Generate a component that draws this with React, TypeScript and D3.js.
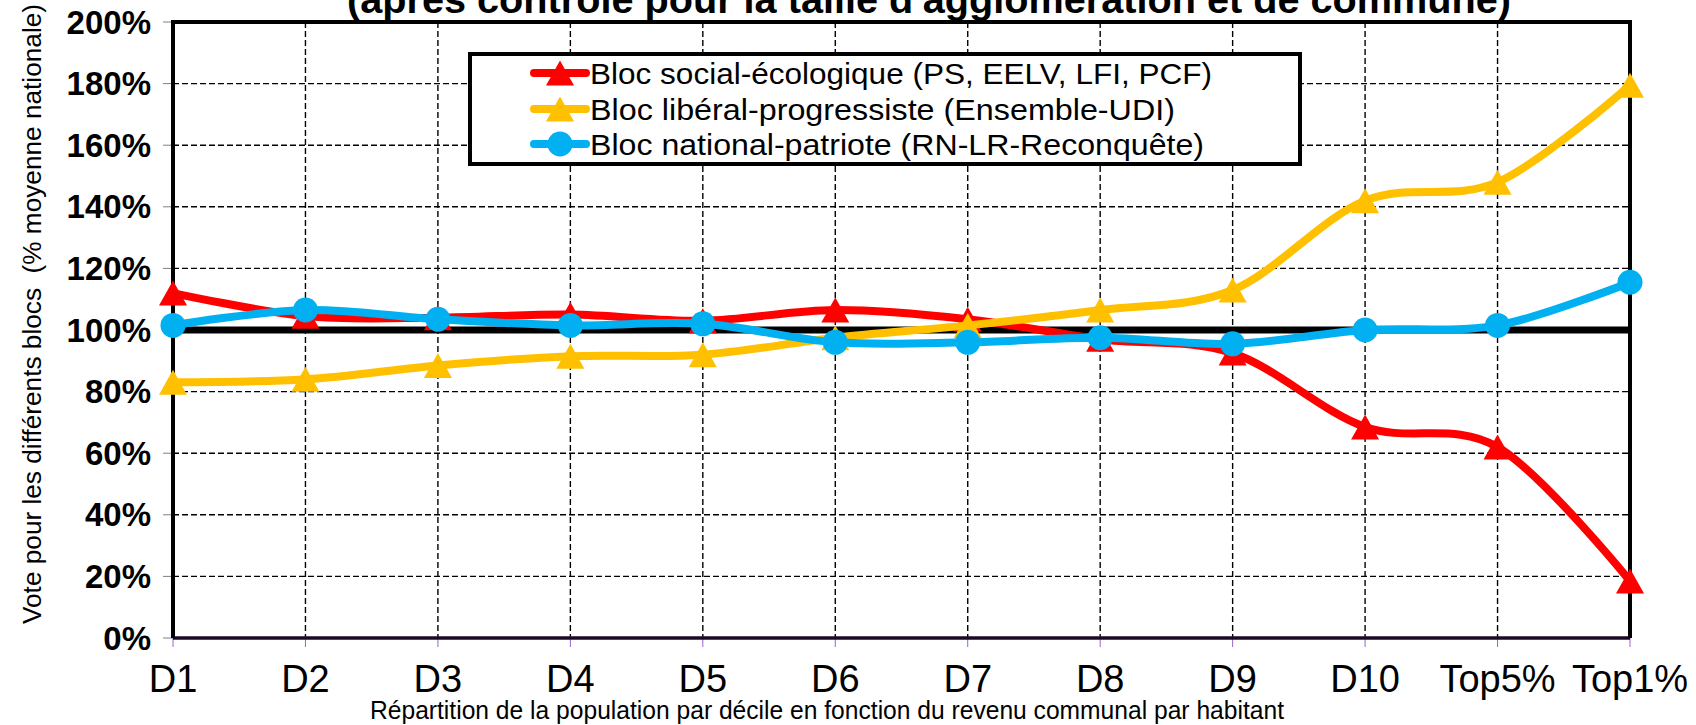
import React from "react";
import * as d3 from "d3";

const categories = ["D1", "D2", "D3", "D4", "D5", "D6", "D7", "D8", "D9", "D10", "Top5%", "Top1%"];
const socialEcologique = [112, 104.5, 104, 105, 103, 106.5, 103.5, 97, 92.5, 68.5, 62, 18.5];
const liberalProgressiste = [83, 84, 88.5, 91.5, 92, 97.5, 101.5, 106.5, 113, 142, 148, 179.5];
const nationalPatriote = [101.5, 106.5, 103.5, 101.5, 102, 96, 96, 97.5, 95.5, 100, 101.5, 115.5];
const referenceLevel = 100;
const yTicks = [0, 20, 40, 60, 80, 100, 120, 140, 160, 180, 200];

const seriesNames = [
  "Bloc social-écologique (PS, EELV, LFI, PCF)",
  "Bloc libéral-progressiste (Ensemble-UDI)",
  "Bloc national-patriote (RN-LR-Reconquête)",
];
const titleText = "(après contrôle pour la taille d'agglomération et de commune)";
const yTitle = "Vote pour les différents blocs  (% moyenne nationale)";
const xTitle = "Répartition de la population par décile en fonction du revenu communal par habitant";

const W = 1696;
const H = 725;
const L = 173, R = 1630, T = 22, B = 638;
const FONT = "'Liberation Sans', Arial, sans-serif";

const x = d3.scalePoint<string>().domain(categories).range([L, R]);
const y = d3.scaleLinear().domain([0, 200]).range([B, T]);

const series = [
  { name: seriesNames[0], values: socialEcologique, color: "#FF0000", marker: "tri", textLen: 622 },
  { name: seriesNames[1], values: liberalProgressiste, color: "#FFC000", marker: "tri", textLen: 585 },
  { name: seriesNames[2], values: nationalPatriote, color: "#00B0F0", marker: "circle", textLen: 614 },
];

const line = d3
  .line<[number, number]>()
  .x((d) => d[0])
  .y((d) => d[1])
  .curve(d3.curveCatmullRom.alpha(0));

function Marker({ type, cx, cy, color }: { type: string; cx: number; cy: number; color: string }) {
  if (type === "circle") return <circle cx={cx} cy={cy} r={12.5} fill={color} />;
  const w = 28, h = 25;
  return (
    <path
      d={`M${cx},${cy - h / 2} L${cx + w / 2},${cy + h / 2} L${cx - w / 2},${cy + h / 2} Z`}
      fill={color}
    />
  );
}

export default function App() {
  const legendX = 470, legendY = 54, legendW = 830, legendH = 110;
  const rowY = [73, 109, 144];
  return (
    <div style={{ position: "absolute", left: 0, top: 0 }}>
      <svg width={W} height={H} style={{ display: "block", background: "#fff" }} fontFamily={FONT}>
        <rect x={0} y={0} width={W} height={H} fill="#fff" />
        {/* title (clipped at the top) */}
        <text x={929} y={13} textAnchor="middle" fontWeight="bold" fontSize={39} textLength={1164} lengthAdjust="spacingAndGlyphs">
          {titleText}
        </text>
        {/* grid */}
        {yTicks.filter((t) => t > 0 && t < 200).map((t) => (
          <line key={"h" + t} x1={L} x2={R} y1={y(t)} y2={y(t)} stroke="#000" strokeWidth={1.4} strokeDasharray="6,3" />
        ))}
        {categories.slice(1, -1).map((c) => (
          <line key={"v" + c} x1={x(c)} x2={x(c)} y1={T} y2={B} stroke="#000" strokeWidth={1.4} strokeDasharray="6,3" />
        ))}
        {/* y ticks */}
        {yTicks.map((t) => (
          <g key={"yt" + t}>
            <line x1={163} x2={L} y1={y(t)} y2={y(t)} stroke="#808080" strokeWidth={1} />
            <text x={151} y={y(t)} dy="0.35em" textAnchor="end" fontWeight="bold" fontSize={33}>
              {t}%
            </text>
          </g>
        ))}
        {/* x ticks */}
        {categories.map((c) => (
          <g key={"xt" + c}>
            <line x1={x(c)} x2={x(c)} y1={B} y2={B + 9} stroke="#9966CC" strokeWidth={1} />
            <text x={x(c)} y={692} textAnchor="middle" fontSize={38}>
              {c}
            </text>
          </g>
        ))}
        {/* frame */}
        <line x1={L} x2={R} y1={B} y2={B} stroke="#1a0a26" strokeWidth={3.5} />
        <path d={`M${L},${B} L${L},${T} L${R},${T} L${R},${B}`} fill="none" stroke="#000" strokeWidth={4} />
        {/* reference 100% */}
        <line x1={x(categories[0])} x2={x(categories[categories.length - 1])} y1={y(referenceLevel)} y2={y(referenceLevel)} stroke="#000" strokeWidth={7} />
        {/* series */}
        {series.map((s) => {
          const pts: [number, number][] = s.values.map((v, i) => [x(categories[i]) as number, y(v)]);
          return (
            <g key={s.name}>
              <path d={line(pts) || ""} fill="none" stroke={s.color} strokeWidth={8} strokeLinejoin="round" />
              {pts.map((p, i) => (
                <Marker key={i} type={s.marker} cx={p[0]} cy={p[1]} color={s.color} />
              ))}
            </g>
          );
        })}
        {/* legend */}
        <rect x={legendX} y={legendY} width={legendW} height={legendH} fill="#fff" stroke="#000" strokeWidth={4} />
        {series.map((s, i) => (
          <g key={"lg" + i}>
            <line x1={534} x2={586} y1={rowY[i]} y2={rowY[i]} stroke={s.color} strokeWidth={8} strokeLinecap="round" />
            <Marker type={s.marker} cx={560} cy={rowY[i]} color={s.color} />
            <text x={590} y={rowY[i]} dy="0.36em" fontSize={30} textLength={s.textLen} lengthAdjust="spacingAndGlyphs">
              {s.name}
            </text>
          </g>
        ))}
        {/* axis titles */}
        <text
          transform={`translate(41,314) rotate(-90)`}
          textAnchor="middle"
          fontSize={26}
          textLength={620}
          lengthAdjust="spacingAndGlyphs"
          style={{ whiteSpace: "pre" }}
        >
          {yTitle}
        </text>
        <text x={827} y={719} textAnchor="middle" fontSize={25} textLength={914} lengthAdjust="spacingAndGlyphs">
          {xTitle}
        </text>
      </svg>
    </div>
  );
}
